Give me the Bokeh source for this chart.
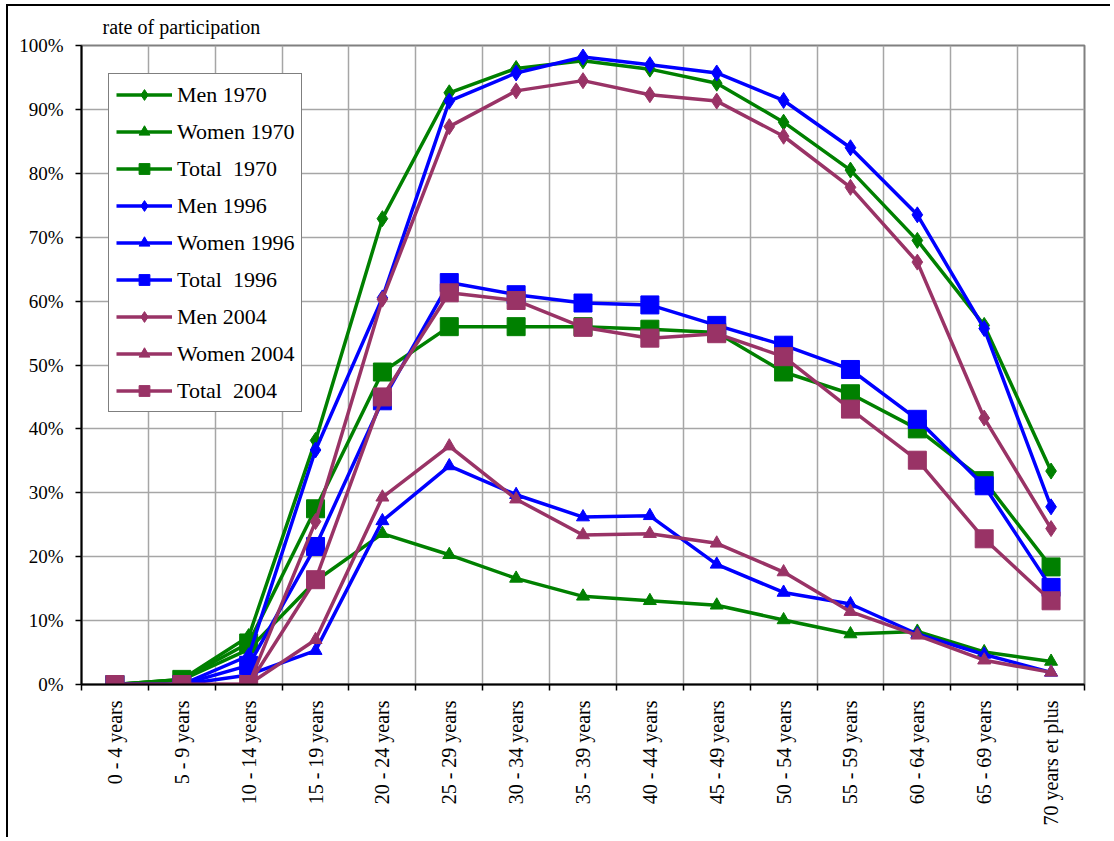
import numpy as np
from bokeh.plotting import figure
from bokeh.models import (Legend, LegendItem, FixedTicker, PrintfTickFormatter,
                          Range1d, ColumnDataSource)
from bokeh.embed import file_html
from bokeh.resources import INLINE

age_groups = ["0 - 4 years", "5 - 9 years", "10 - 14 years", "15 - 19 years",
              "20 - 24 years", "25 - 29 years", "30 - 34 years", "35 - 39 years",
              "40 - 44 years", "45 - 49 years", "50 - 54 years", "55 - 59 years",
              "60 - 64 years", "65 - 69 years", "70 years et plus"]

men_1970 = [0, 0.8, 7.5, 38.2, 72.9, 92.6, 96.4, 97.6, 96.3, 94.1, 88.0, 80.5, 69.5, 56.2, 33.4]
women_1970 = [0, 0.7, 5.5, 16.2, 23.6, 20.3, 16.6, 13.8, 13.1, 12.4, 10.1, 7.9, 8.3, 5.1, 3.6]
total_1970 = [0, 0.8, 6.5, 27.5, 48.9, 56.0, 56.0, 56.0, 55.6, 55.1, 48.9, 45.5, 40.0, 31.9, 18.4]
men_1996 = [0, 0, 4.5, 36.7, 60.5, 91.3, 95.7, 98.2, 97.0, 95.7, 91.4, 84.0, 73.5, 55.7, 27.8]
women_1996 = [0, 0, 1.5, 5.3, 25.6, 34.2, 29.7, 26.2, 26.4, 18.8, 14.4, 12.6, 7.9, 4.7, 1.9]
total_1996 = [0, 0, 3.0, 21.6, 44.4, 62.9, 61.0, 59.7, 59.4, 56.2, 53.1, 49.3, 41.5, 31.1, 15.2]
men_2004 = [0, 0, 0, 25.5, 60.3, 87.3, 92.9, 94.5, 92.3, 91.3, 85.8, 77.8, 66.1, 41.7, 24.4]
women_2004 = [0, 0, 0, 7.0, 29.3, 37.3, 29.0, 23.4, 23.6, 22.1, 17.6, 11.4, 7.7, 3.8, 1.9]
total_2004 = [0, 0, 0, 16.4, 45.0, 61.3, 60.1, 55.9, 54.2, 54.9, 51.3, 43.1, 35.1, 22.8, 13.1]

series = [
    ("Men 1970", men_1970, "#008000", "diamond"),
    ("Women 1970", women_1970, "#008000", "triangle"),
    ("Total  1970", total_1970, "#008000", "square"),
    ("Men 1996", men_1996, "#0000FF", "diamond"),
    ("Women 1996", women_1996, "#0000FF", "triangle"),
    ("Total  1996", total_1996, "#0000FF", "square"),
    ("Men 2004", men_2004, "#993366", "diamond"),
    ("Women 2004", women_2004, "#993366", "triangle"),
    ("Total  2004", total_2004, "#993366", "square"),
]
marker_sizes = {"diamond": 16, "triangle": 13, "square": 18}

FONT = "Liberation Serif"
x = [i + 0.5 for i in range(len(age_groups))]

p = figure(width=1104, height=833, output_backend="svg", toolbar_location=None,
           x_range=Range1d(0, len(age_groups)), y_range=Range1d(0, 100),
           min_border_left=73, min_border_right=28, min_border_top=39,
           min_border_bottom=155)
p.styles = {"margin-left": "6px", "margin-top": "4px",
            "border-left": "2px solid black", "border-top": "2px solid black"}
p.background_fill_color = "white"
p.border_fill_color = "white"
p.outline_line_color = "#808080"
p.outline_line_width = 2

p.title.text = "rate of participation"
p.title.text_font = FONT
p.title.text_font_size = "20px"
p.title.text_font_style = "normal"
p.title.text_color = "black"
p.title.align = "left"
p.title.offset = 21
p.title.standoff = 15

# axes
p.xaxis.ticker = FixedTicker(ticks=x, minor_ticks=list(range(len(age_groups) + 1)))
p.xaxis.major_label_overrides = {xi: lab for xi, lab in zip(x, age_groups)}
p.xaxis.major_label_orientation = np.pi / 2
p.xaxis.major_tick_line_color = None
p.xaxis.minor_tick_line_color = "black"
p.xaxis.minor_tick_out = 6
p.xaxis.minor_tick_in = 0
p.xaxis.major_label_standoff = 10
p.xaxis.major_label_text_font_size = "20px"
p.yaxis.ticker = FixedTicker(ticks=list(range(0, 101, 10)))
p.yaxis.formatter = PrintfTickFormatter(format="%d%%")
p.yaxis.major_tick_out = 6
p.yaxis.major_tick_in = 0
p.yaxis.minor_tick_line_color = None
p.yaxis.major_label_standoff = 12
p.yaxis.major_label_text_font_size = "19px"
for ax in (p.xaxis, p.yaxis):
    ax.axis_line_color = "black"
    ax.axis_line_width = 2
    ax.major_label_text_font = FONT
    ax.major_label_text_color = "black"
p.yaxis.major_tick_line_width = 1.5
p.xaxis.minor_tick_line_width = 1.5

p.xgrid.ticker = FixedTicker(ticks=list(range(1, len(age_groups))))
p.ygrid.ticker = FixedTicker(ticks=list(range(10, 100, 10)))
for g in (p.xgrid, p.ygrid):
    g.grid_line_color = "#a6a6a6"
    g.grid_line_width = 1.5

items = []
for name, vals, color, marker in series:
    src = ColumnDataSource(dict(x=x, y=vals))
    lr = p.line("x", "y", source=src, line_color=color, line_width=3.5)
    mr = p.scatter("x", "y", source=src, marker=marker, size=marker_sizes[marker],
                   fill_color=color, line_color=color, line_width=1)
    items.append(LegendItem(label=name, renderers=[lr, mr]))

legend = Legend(items=items, location=(27, 272))
legend.label_text_font = FONT
legend.label_text_font_size = "22px"
legend.label_text_color = "black"
legend.glyph_width = 56
legend.glyph_height = 27
legend.label_height = 27
legend.spacing = 10
legend.padding = 7
legend.label_standoff = 5
legend.border_line_color = "black"
legend.border_line_width = 1
legend.background_fill_color = "white"
legend.background_fill_alpha = 1
p.add_layout(legend, "center")

open("out.html", "w").write(file_html(p, INLINE))
